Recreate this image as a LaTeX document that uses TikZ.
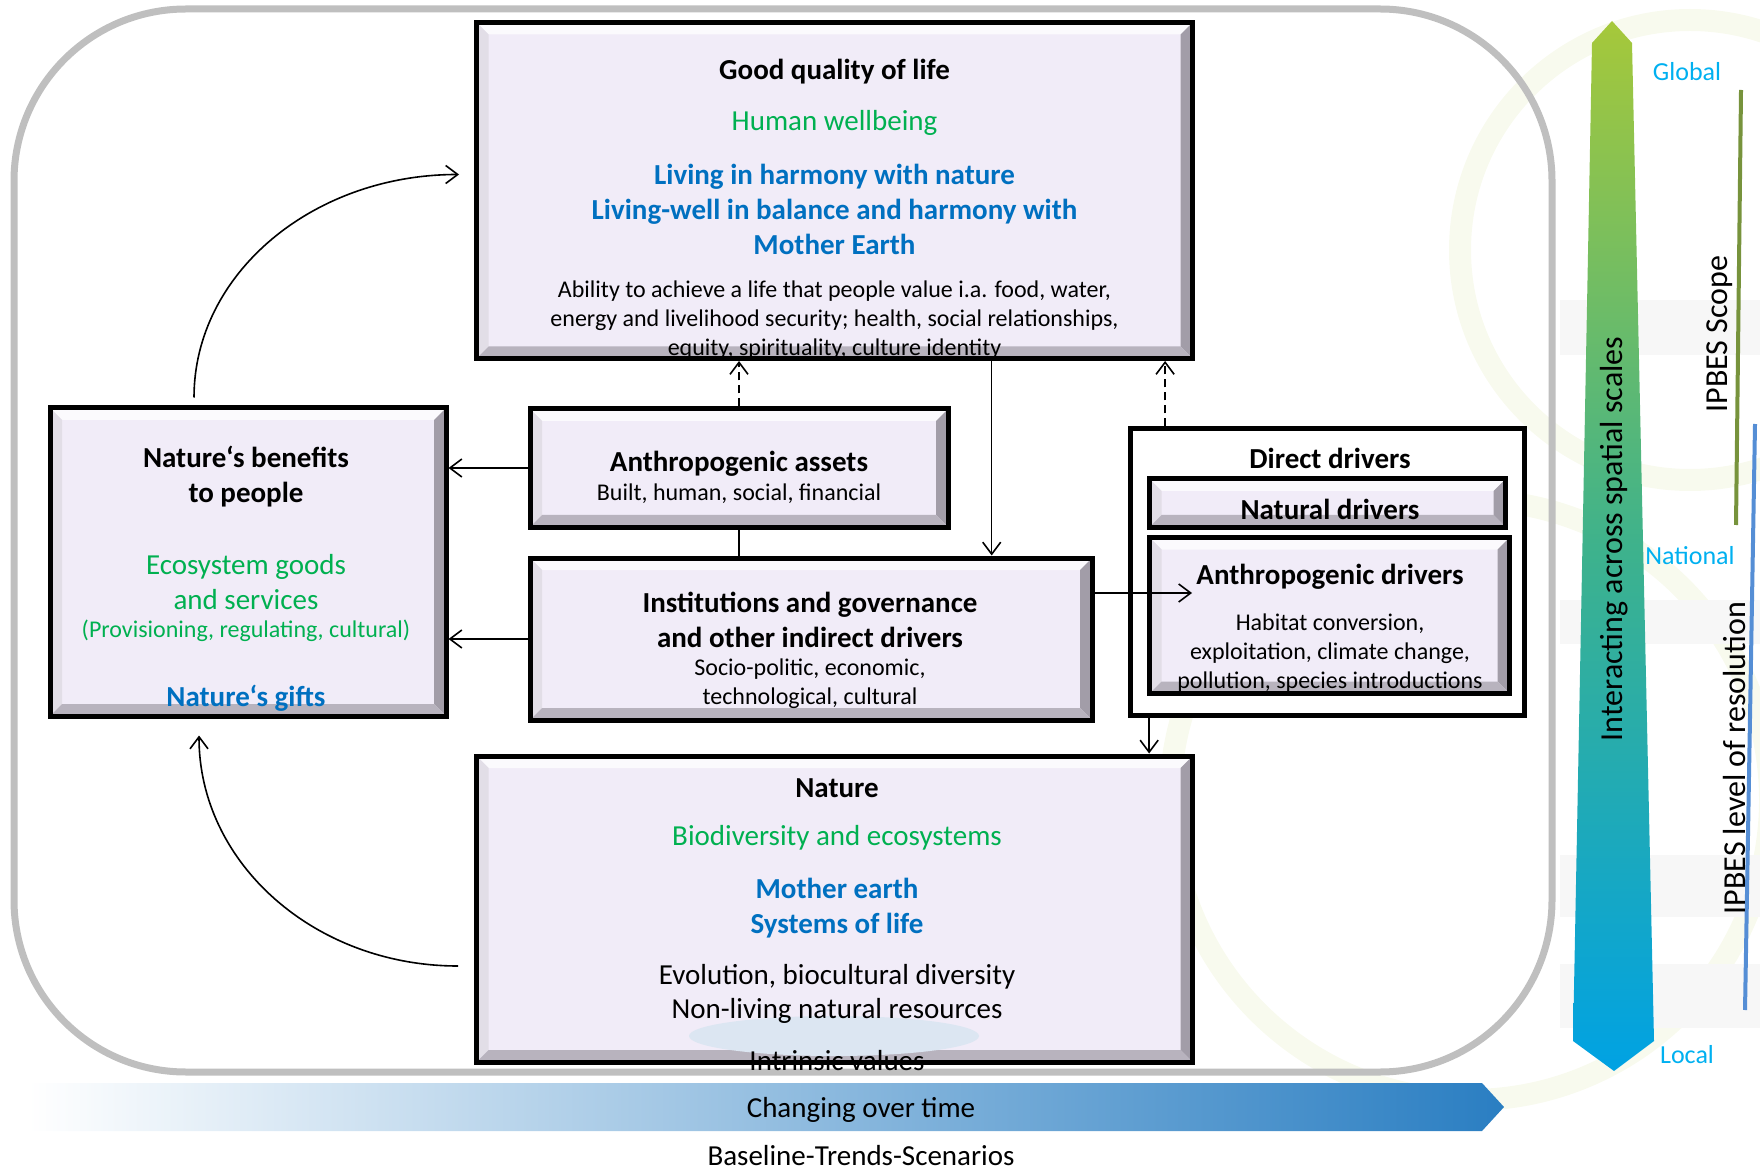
\documentclass[tikz,border=0pt]{standalone}
\usepackage{fontspec}
\setmainfont{Carlito}
\usetikzlibrary{arrows.meta,positioning,calc,shapes.geometric}
\definecolor{IPGreen}{HTML}{00B050}
\definecolor{IPBlue}{HTML}{0070C0}
\definecolor{IPSky}{HTML}{00B0F0}
\definecolor{IPFace}{HTML}{F1ECF8}
\definecolor{IPFrame}{HTML}{BFBFBF}
\definecolor{IPOlive}{HTML}{77933C}
\definecolor{IPLine}{HTML}{558ED5}
\definecolor{IPTime}{HTML}{2A7EC2}
\definecolor{IPTop}{HTML}{A6C83A}
\definecolor{IPMid}{HTML}{3EB28C}
\definecolor{IPLow}{HTML}{00A2E3}
\definecolor{IPHalo}{HTML}{DCE6F2}
\definecolor{IPMark}{HTML}{F8FAEE}
\definecolor{IPMarkGray}{HTML}{F7F7F7}
\definecolor{BevTop}{HTML}{FBFAFD}
\definecolor{BevLeft}{HTML}{E2DEE7}
\definecolor{BevRight}{HTML}{A29DA8}
\definecolor{BevBottom}{HTML}{B8B3BE}

\tikzset{
  bevelbox/.style={draw=black,line width=2.5pt,fill=IPFace,inner sep=0pt,
    path picture={
      \coordinate (bsw) at (path picture bounding box.south west);
      \coordinate (bne) at (path picture bounding box.north east);
      \coordinate (bnw) at (bsw |- bne);
      \coordinate (bse) at (bne |- bsw);
      \fill[BevTop] ($(bnw)+(1pt,-1pt)$) -- ($(bne)+(-1pt,-1pt)$) -- ($(bne)+(-6pt,-6pt)$) -- ($(bnw)+(6pt,-6pt)$) -- cycle;
      \fill[BevLeft] ($(bnw)+(1pt,-1pt)$) -- ($(bnw)+(6pt,-6pt)$) -- ($(bsw)+(6pt,6pt)$) -- ($(bsw)+(1pt,1pt)$) -- cycle;
      \fill[BevRight] ($(bne)+(-1pt,-1pt)$) -- ($(bse)+(-1pt,1pt)$) -- ($(bse)+(-6pt,6pt)$) -- ($(bne)+(-6pt,-6pt)$) -- cycle;
      \fill[BevBottom] ($(bsw)+(1pt,1pt)$) -- ($(bse)+(-1pt,1pt)$) -- ($(bse)+(-6pt,6pt)$) -- ($(bsw)+(6pt,6pt)$) -- cycle;
    }},
  groupbox/.style={draw=black,line width=2.5pt,fill=white,inner sep=0pt},
  arr/.style={-{Straight Barb[length=6pt,width=9pt]},line width=0.8pt},
  dash arr/.style={arr,dash pattern=on 4pt off 2.5pt},
  headtxt/.style={font=\fontsize{14.5}{17.5}\selectfont\bfseries,align=center,inner sep=0pt},
  greentxt/.style={font=\fontsize{14.5}{17.5}\selectfont,text=IPGreen,align=center,inner sep=0pt},
  bluetxt/.style={font=\fontsize{14.5}{17.5}\selectfont\bfseries,text=IPBlue,align=center,inner sep=0pt},
  bodytxt/.style={font=\fontsize{14.5}{17.3}\selectfont,align=center,inner sep=0pt},
  smalltxt/.style={font=\fontsize{12}{14.5}\selectfont,align=center,inner sep=0pt},
  skytxt/.style={font=\fontsize{13}{15}\selectfont,text=IPSky,inner sep=0pt},
  scaletxt/.style={font=\fontsize{16}{19}\selectfont,rotate=90,inner sep=0pt},
}

\begin{document}
\begin{tikzpicture}[x=0.5pt,y=-0.5pt]
\useasboundingbox (0,0) rectangle (1760,1170);

% faint logo in the background
\begin{scope}[IPMark,line width=11pt]
  \draw (1470,800) circle (300);
  \draw (1690,250) circle (230);
\end{scope}
\fill[IPMarkGray] (1560,300) rectangle (1760,355);
\fill[IPMarkGray] (1560,600) rectangle (1760,644);
\fill[IPMarkGray] (1560,855) rectangle (1760,917);
\fill[IPMarkGray] (1560,964) rectangle (1760,1028);

% frame of the framework
\draw[IPFrame,line width=3.5pt,rounded corners=86pt] (14,9) rectangle (1552,1072);

% scale arrows
\shade[left color=white,right color=IPTime] (28,1083) -- (1482,1083) -- (1504,1107) -- (1482,1131) -- (28,1131) -- cycle;
\shade[top color=IPTop,bottom color=IPLow,middle color=IPMid] (1612,21) -- (1632,43) -- (1654,1041) -- (1614,1071) -- (1573,1041) -- (1592,43) -- cycle;
\draw[IPOlive,line width=2pt] (1741,90) -- (1736,525);
\draw[IPLine,line width=2pt] (1755,424) -- (1745,1010);

% boxes
\node[bevelbox,minimum width=358pt,minimum height=168pt] (gql) at (834.5,190.5) {};
\node[bevelbox,minimum width=198pt,minimum height=154pt] (ben) at (248,562) {};
\node[bevelbox,minimum width=209pt,minimum height=59pt] (assets) at (739,468) {};
\node[bevelbox,minimum width=281pt,minimum height=81pt] (inst) at (811,639) {};
\node[groupbox,minimum width=197pt,minimum height=143pt] (direct) at (1327.5,572) {};
\node[bevelbox,minimum width=178pt,minimum height=24pt] (natural) at (1327.5,503) {};
\node[bevelbox,minimum width=180pt,minimum height=78pt] (anthro) at (1329.5,615.5) {};
\node[bevelbox,minimum width=358pt,minimum height=153pt] (nature) at (834.5,909) {};
\node[ellipse,fill=IPHalo,minimum width=145pt,minimum height=20pt] (halo) at (834,1036) {};

% connectors
\coordinate (gqlout) at ($(gql.south west)!0.718!(gql.south east)$);
\coordinate (ddup) at ($(direct.north west)!0.093!(direct.north east)$);
\coordinate (dddown) at ($(direct.south west)!0.053!(direct.south east)$);
\coordinate (adin) at ($(anthro.north west)+(45,58)$);
\coordinate (bentop) at ($(ben.north)+(-54,-8)$);
\coordinate (gqlin) at ($(gql.west)+(-15,-16)$);
\coordinate (natout) at ($(nature.west)+(-16,57)$);
\coordinate (benlow) at ($(ben.south)+(-49,17)$);
\draw[dash arr] (assets.north) -- (assets.north |- gql.south);
\draw[line width=0.8pt] (assets.south) -- (assets.south |- inst.north);
\draw[arr] (gqlout) -- (gqlout |- inst.north);
\draw[dash arr] (ddup) -- (ddup |- gql.south);
\draw[arr] (dddown) -- (dddown |- nature.north);
\draw[arr] (inst.east |- adin) -- (adin);
\draw[arr] (assets.west) -- (assets.west -| ben.east);
\draw[arr] (inst.west) -- (inst.west -| ben.east);
\draw[arr] (bentop) .. controls +(0,-124) and +(-146,0) .. (gqlin);
\draw[arr] (natout) .. controls +(-143,0) and +(0,128) .. (benlow);

% texts
\node[headtxt] (gqlhead) at (834.5,72) {Good quality of life};
\node[greentxt] (gqlgreen) at (834.5,123) {Human wellbeing};
\node[bluetxt] (gqlblue) at (834.5,209) {Living in harmony with nature\\Living-well in balance and harmony with\\Mother Earth};
\node[smalltxt] (gqlbody) at (834.5,320) {Ability to achieve a life that people value i.a. food, water,\\energy and livelihood security; health, social relationships,\\equity, spirituality, culture identity};

\node[headtxt] (benhead) at (246,476.5) {Nature‘s benefits\\to people};
\node[greentxt] (bengreen) at (246,582.5) {Ecosystem goods\\and services};
\node[smalltxt,text=IPGreen] (bensub) at (246,631) {(Provisioning, regulating, cultural)};
\node[bluetxt] (benblue) at (246,698) {Nature‘s gifts};

\node[headtxt] (assetshead) at (739,463.5) {Anthropogenic assets};
\node[smalltxt] (assetsbody) at (739,494) {Built, human, social, financial};

\node[headtxt] (insthead) at (810,620) {Institutions and governance\\and other indirect drivers};
\node[smalltxt] (instbody) at (810,683.5) {Socio-politic, economic,\\technological, cultural};

\node[headtxt] (directhead) at (1330,458) {Direct drivers};
\node[headtxt] (naturalhead) at (1330,509) {Natural drivers};
\node[headtxt] (anthrohead) at (1330,577) {Anthropogenic drivers};
\node[smalltxt] (anthrobody) at (1330,653) {Habitat conversion,\\exploitation, climate change,\\pollution, species introductions};

\node[headtxt] (naturehead) at (837,788) {Nature};
\node[greentxt] (naturegreen) at (837,838) {Biodiversity and ecosystems};
\node[bluetxt] (natureblue) at (837,908.5) {Mother earth\\Systems of life};
\node[bodytxt] (naturebody) at (837,994) {Evolution, biocultural diversity\\Non-living natural resources};
\node[bodytxt] (natureval) at (837,1061) {Intrinsic values};

\node[bodytxt] (timetxt) at (861,1110) {Changing over time};
\node[bodytxt] (basetxt) at (861,1156) {Baseline-Trends-Scenarios};

\node[scaletxt] (scaletext) at (1614,539) {Interacting across spatial scales};
\node[scaletxt] (scopetxt) at (1720,334) {IPBES Scope};
\node[scaletxt] (resoltxt) at (1734,758) {IPBES level of resolution};
\node[skytxt] (global) at (1687,72) {Global};
\node[skytxt] (national) at (1690,556) {National};
\node[skytxt] (local) at (1687,1055) {Local};
\end{tikzpicture}
\end{document}
